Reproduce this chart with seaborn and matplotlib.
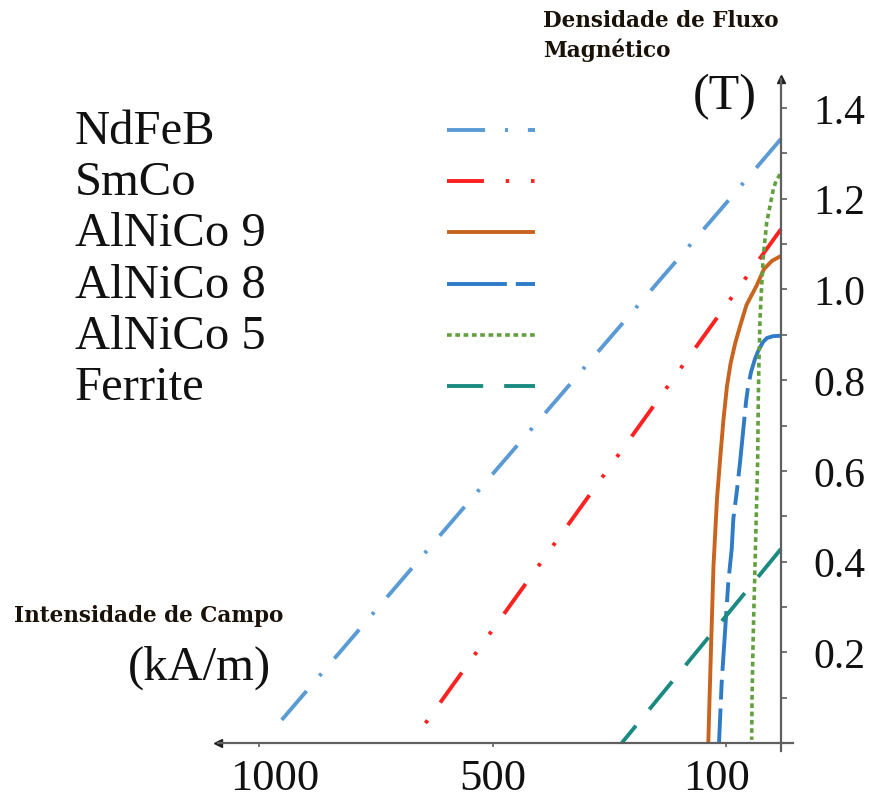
import numpy as np
import pandas as pd
import matplotlib
matplotlib.use("Agg")
import matplotlib.pyplot as plt
import matplotlib.transforms as mtrans
from matplotlib.ticker import NullLocator
import seaborn as sns

# ---------------- data ----------------
materials = ["NdFeB", "SmCo", "AlNiCo 9", "AlNiCo 8", "AlNiCo 5", "Ferrite"]

ndfeb_h = [0, 100, 500, 963]
ndfeb_b = [1.332, 1.19, 0.594, 0.037]

smco_h = [0, 100, 500, 649]
smco_b = [1.133, 0.965, 0.251, 0.037]

alnico9_h = [0, 16.4, 30.9, 44.5, 62.7, 74.5, 83.6, 91.8, 98.2, 104.3, 109.4,
             115.5, 121.5, 124.9, 128.3, 130.4]
alnico9_b = [1.074, 1.063, 1.045, 1.008, 0.966, 0.919, 0.880, 0.836, 0.787, 0.714, 0.637,
             0.538, 0.390, 0.245, 0.097, 0.0]

alnico8_h = [0, 14.5, 25.5, 32.7, 40.9, 47.3, 54.5, 60, 63.6, 68.5, 74.5, 80.5, 86.7,
             89.6, 95.8, 101.7, 107.4, 112]
alnico8_b = [0.898, 0.897, 0.893, 0.884, 0.866, 0.847, 0.818, 0.785, 0.752, 0.692, 0.619,
             0.553, 0.494, 0.428, 0.355, 0.245, 0.134, 0.0]

alnico5_h = [1.8, 9.1, 14, 20, 26, 29.1, 32.2, 34, 36.4, 38.2, 40, 41.3, 42.4, 44.2,
             47.3, 50.4, 52.7, 53.3]
alnico5_b = [1.254, 1.239, 1.221, 1.184, 1.148, 1.111, 1.074, 1.034, 0.979, 0.935, 0.847,
             0.758, 0.626, 0.538, 0.390, 0.245, 0.097, 0.007]

ferrite_h = [0, 100, 279]
ferrite_b = [0.428, 0.280, 0.0]

series_h = [ndfeb_h, smco_h, alnico9_h, alnico8_h, alnico5_h, ferrite_h]
series_b = [ndfeb_b, smco_b, alnico9_b, alnico8_b, alnico5_b, ferrite_b]

x_ticks = [1000, 500, 100]
x_ticklabels = ["1000", "500", "100"]
y_ticks = [0.2, 0.4, 0.6, 0.8, 1.0, 1.2, 1.4]
y_ticklabels = ["0.2", "0.4", "0.6", "0.8", "1.0", "1.2", "1.4"]
y_minor = [0.1, 0.3, 0.5, 0.7, 0.9, 1.1, 1.3]

# ---------------- styles ----------------
colors = {"NdFeB": "#5b9bd5", "SmCo": "#ff2020", "AlNiCo 9": "#c8641e",
          "AlNiCo 8": "#2f7bc6", "AlNiCo 5": "#62a03e", "Ferrite": "#1b8b82"}
dashes = {"NdFeB": (9.8, 5.1, 0.8, 5.1),
          "SmCo": (9.5, 5.6, 0.9, 5.6, 0.9, 5.6),
          "AlNiCo 9": None,
          "AlNiCo 8": (15.4, 2.3, 5.1, 2.3),
          "AlNiCo 5": (1.3, 1.0),
          "Ferrite": (9.3, 5.4)}
widths = {"NdFeB": 2.8, "SmCo": 2.8, "AlNiCo 9": 2.8, "AlNiCo 8": 2.8,
          "AlNiCo 5": 2.6, "Ferrite": 2.8}

sns.set_theme(style="white")
plt.rcParams["font.family"] = ["Liberation Serif", "DejaVu Serif"]

W, H = 870, 803
fig = plt.figure(figsize=(W / 100, H / 100), dpi=100)
ax = fig.add_axes([218 / W, 1 - 752 / H, (793 - 218) / W, (752 - 80) / H])

# non-uniform (schematic) field axis: piecewise-linear mapping
knot_h = [-100, 0, 100, 500, 1000, 1200]
knot_p = [-55, 0, 55, 288, 522, 615.6]


def fwd(v):
    return np.interp(v, knot_h, knot_p)


def inv(v):
    return np.interp(v, knot_p, knot_h)


ax.set_xscale("function", functions=(fwd, inv))

for m, h, b in zip(materials, series_h, series_b):
    df = pd.DataFrame({"H": h, "B": b})
    sns.lineplot(data=df, x="H", y="B", ax=ax, color=colors[m], sort=False,
                 estimator=None, linewidth=widths[m], legend=False)
    ln = ax.lines[-1]
    ln.set_solid_capstyle("butt")
    ln.set_solid_joinstyle("round")
    if dashes[m] is None:
        ln.set_linestyle("-")
    else:
        ln.set_dashes(dashes[m])
    ln.set_label(m)

data_lines = list(ax.lines)

ax.set_xlim(1087.6, -21.8)
ax.set_ylim(-0.0176, 1.464)

# axes lines through the origin
for s in ["left", "top"]:
    ax.spines[s].set_visible(False)
ax.spines["right"].set_position(("data", 0))
ax.spines["bottom"].set_position(("data", 0))
for s in ["right", "bottom"]:
    ax.spines[s].set_color("#5f5f5f")
    ax.spines[s].set_linewidth(1.6)
    ax.spines[s].set_visible(True)

ax.yaxis.tick_right()
ax.set_yticks(y_ticks)
ax.set_yticklabels(y_ticklabels)
ax.set_yticks(y_minor, minor=True)
ax.set_xticks(x_ticks)
ax.set_xticklabels(x_ticklabels)
ax.xaxis.set_minor_locator(NullLocator())
ax.tick_params(axis="y", which="both", direction="out", length=4, width=1.2,
               color="#5f5f5f", pad=19, labelsize=30, labelcolor="#111111",
               right=True, left=False)
ax.tick_params(axis="x", which="both", direction="out", length=3, width=1.2,
               color="#5f5f5f", pad=8, labelsize=32, labelcolor="#111111",
               bottom=True, top=False)
ax.set_xlabel("")
ax.set_ylabel("")
ax.grid(False)

# small horizontal shifts of x tick labels (as placed in the reference)
label_shift_px = {"1000": 16, "500": 0, "100": -9}
for lab in ax.get_xticklabels():
    dx = label_shift_px.get(lab.get_text(), 0)
    if dx:
        lab.set_transform(lab.get_transform() +
                          mtrans.ScaledTranslation(dx / 100, 0, fig.dpi_scale_trans))

# arrow heads
ax.plot(0, 0, marker="<", color="#222222", ms=6, transform=ax.get_yaxis_transform(), clip_on=False)
ax.plot(0, 1, marker="^", color="#222222", ms=6, transform=ax.get_xaxis_transform(), clip_on=False)

# axis titles / units
bold = dict(family="DejaVu Serif", weight="bold", size=15.5, color="#1a1208")
fig.text(543 / W, 1 - 21 / H, "Densidade de Fluxo", ha="left", va="center", **bold)
fig.text(543 / W, 1 - 50 / H, "Magnético", ha="left", va="center", **bold)
fig.text(14 / W, 1 - 616 / H, "Intensidade de Campo", ha="left", va="center", **bold)
fig.text(725 / W, 1 - 97 / H, "(T)", ha="center", va="center", fontsize=36, color="#111111")
fig.text(199 / W, 1 - 668 / H, "(kA/m)", ha="center", va="center", fontsize=35, color="#111111")

# legend: texts on the left, line samples on the right
prop = {"family": "Liberation Serif", "size": 35}
leg1 = fig.legend(data_lines, materials, loc="upper left",
                  bbox_to_anchor=(75 / W, 1 - 110 / H),
                  bbox_transform=fig.transFigure, frameon=False, prop=prop,
                  handlelength=0, handletextpad=0, labelspacing=0.148,
                  borderpad=0, borderaxespad=0)
for t in leg1.get_texts():
    t.set_color("#111111")
leg2 = fig.legend(data_lines, [""] * len(materials), loc="upper right",
                  bbox_to_anchor=(535 / W, 1 - 114 / H), bbox_transform=fig.transFigure,
                  frameon=False, prop=prop, handlelength=1.8, handletextpad=0,
                  labelspacing=0.148, borderpad=0, borderaxespad=0)

fig.savefig("out.png", dpi=100)
